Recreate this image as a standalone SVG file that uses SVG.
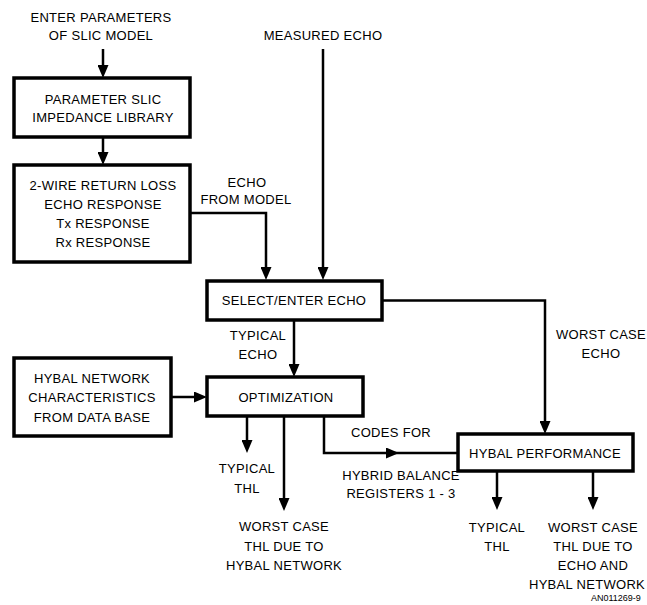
<svg xmlns="http://www.w3.org/2000/svg" width="647" height="605" viewBox="0 0 647 605">
<style>
text{font-family:"Liberation Sans",Arial,sans-serif;font-size:13px;fill:#000;text-anchor:middle;letter-spacing:0.3px}
.box{fill:#fff;stroke:#000;stroke-width:3.5}
.ln{fill:none;stroke:#000;stroke-width:2.5}
.arr{marker-end:url(#ah)}
.small{font-size:9px;letter-spacing:0;text-anchor:start}
</style>
<defs>
<marker id="ah" viewBox="0 0 13 11" refX="7" refY="5.5" markerWidth="13" markerHeight="11" markerUnits="userSpaceOnUse" orient="auto">
<path d="M0,0 L13,5.5 L0,11 Z" fill="#000"/>
</marker>
</defs>
<rect width="647" height="605" fill="#fff"/>
<g id="connectors">
<path class="ln arr" d="M103,49 V72"/>
<path class="ln arr" d="M103,137 V159"/>
<path class="ln arr" d="M190,213 H266 V274"/>
<path class="ln arr" d="M323,49 V274"/>
<path class="ln arr" d="M382,300.5 H545 V428"/>
<path class="ln arr" d="M294,320 V371"/>
<path class="ln arr" d="M171,397 V397 H201"/>
<path class="ln arr" d="M247,416 V447"/>
<path class="ln arr" d="M284,416 V505"/>
<path class="ln arr" d="M324,416 V453 H393"/>
<path class="ln" d="M390,453 H458"/>
<path class="ln arr" d="M497,471 V504"/>
<path class="ln arr" d="M593,471 V504"/>
</g>
<g id="labels">
<text x="101" y="22">ENTER PARAMETERS</text>
<text x="101" y="40">OF SLIC MODEL</text>
<text x="323" y="40">MEASURED ECHO</text>
<text x="247" y="187">ECHO</text>
<text x="246" y="204">FROM MODEL</text>
<text x="258" y="340">TYPICAL</text>
<text x="258" y="359">ECHO</text>
<text x="601" y="339">WORST CASE</text>
<text x="601" y="358">ECHO</text>
<text x="391" y="437">CODES FOR</text>
<text x="401" y="480">HYBRID BALANCE</text>
<text x="401" y="498">REGISTERS 1 - 3</text>
<text x="247" y="473">TYPICAL</text>
<text x="247" y="493">THL</text>
<text x="284" y="531">WORST CASE</text>
<text x="284" y="551">THL DUE TO</text>
<text x="284" y="570">HYBAL NETWORK</text>
<text x="497" y="532">TYPICAL</text>
<text x="497" y="551">THL</text>
<text x="593" y="532">WORST CASE</text>
<text x="593" y="551">THL DUE TO</text>
<text x="593" y="570">ECHO AND</text>
<text x="587" y="589">HYBAL NETWORK</text>
<text class="small" x="591" y="601">AN011269-9</text>
</g>
<g id="param-slic">
<rect class="box" x="14" y="78" width="176" height="59"/>
<text x="103" y="104">PARAMETER SLIC</text>
<text x="103" y="122">IMPEDANCE LIBRARY</text>
</g>
<g id="return-loss">
<rect class="box" x="14" y="165" width="176" height="97"/>
<text x="103" y="190">2-WIRE RETURN LOSS</text>
<text x="103" y="209">ECHO RESPONSE</text>
<text x="103" y="228">Tx RESPONSE</text>
<text x="103" y="247">Rx RESPONSE</text>
</g>
<g id="select-echo">
<rect class="box" x="207" y="281" width="175" height="39"/>
<text x="294" y="305">SELECT/ENTER ECHO</text>
</g>
<g id="hybal-network">
<rect class="box" x="14" y="358" width="157" height="78"/>
<text x="92" y="383">HYBAL NETWORK</text>
<text x="92" y="402">CHARACTERISTICS</text>
<text x="92" y="422">FROM DATA BASE</text>
</g>
<g id="optimization">
<rect class="box" x="207" y="377" width="156" height="39"/>
<text x="286" y="402">OPTIMIZATION</text>
</g>
<g id="hybal-performance">
<rect class="box" x="458" y="434" width="175" height="37"/>
<text x="545" y="458">HYBAL PERFORMANCE</text>
</g>
</svg>
